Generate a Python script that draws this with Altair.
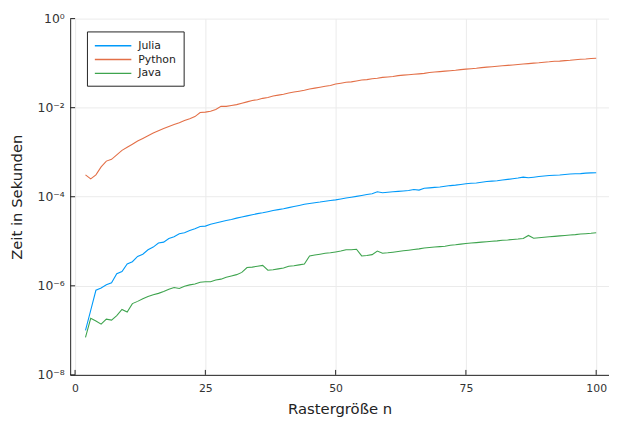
import altair as alt
import pandas as pd

n_values = list(range(2, 101))

julia = [
    1.00e-7, 2.82e-7, 7.94e-7, 8.91e-7, 1.05e-6, 1.17e-6, 1.86e-6, 2.09e-6, 3.09e-6, 3.47e-6,
    4.57e-6, 5.13e-6, 6.46e-6, 7.41e-6, 9.12e-6, 9.55e-6, 1.15e-5, 1.26e-5, 1.48e-5, 1.55e-5,
    1.74e-5, 1.91e-5, 2.14e-5, 2.19e-5, 2.40e-5, 2.57e-5, 2.75e-5, 2.92e-5, 3.09e-5, 3.31e-5,
    3.51e-5, 3.72e-5, 3.94e-5, 4.17e-5, 4.37e-5, 4.62e-5, 4.90e-5, 5.13e-5, 5.37e-5, 5.69e-5,
    6.03e-5, 6.38e-5, 6.76e-5, 7.08e-5, 7.33e-5, 7.59e-5, 7.94e-5, 8.22e-5, 8.51e-5, 8.91e-5,
    9.33e-5, 9.77e-5, 1.02e-4, 1.07e-4, 1.12e-4, 1.17e-4, 1.29e-4, 1.23e-4, 1.26e-4, 1.29e-4,
    1.32e-4, 1.35e-4, 1.38e-4, 1.45e-4, 1.41e-4, 1.55e-4, 1.58e-4, 1.62e-4, 1.66e-4, 1.72e-4,
    1.78e-4, 1.82e-4, 1.88e-4, 1.95e-4, 2.00e-4, 2.04e-4, 2.11e-4, 2.19e-4, 2.24e-4, 2.29e-4,
    2.37e-4, 2.45e-4, 2.54e-4, 2.63e-4, 2.75e-4, 2.66e-4, 2.75e-4, 2.85e-4, 2.92e-4, 2.99e-4,
    3.05e-4, 3.09e-4, 3.16e-4, 3.24e-4, 3.27e-4, 3.31e-4, 3.39e-4, 3.43e-4, 3.47e-4,
]

python = [
    3.09e-4, 2.51e-4, 3.09e-4, 4.68e-4, 6.31e-4, 6.92e-4, 8.71e-4, 1.10e-3, 1.29e-3, 1.51e-3,
    1.78e-3, 2.04e-3, 2.34e-3, 2.69e-3, 3.02e-3, 3.39e-3, 3.80e-3, 4.17e-3, 4.57e-3, 5.13e-3,
    5.62e-3, 6.31e-3, 7.76e-3, 7.94e-3, 8.32e-3, 9.12e-3, 1.07e-2, 1.07e-2, 1.12e-2, 1.17e-2,
    1.26e-2, 1.35e-2, 1.45e-2, 1.51e-2, 1.62e-2, 1.70e-2, 1.82e-2, 1.91e-2, 2.00e-2, 2.14e-2,
    2.24e-2, 2.34e-2, 2.45e-2, 2.63e-2, 2.75e-2, 2.88e-2, 3.02e-2, 3.16e-2, 3.39e-2, 3.55e-2,
    3.72e-2, 3.80e-2, 3.98e-2, 4.17e-2, 4.27e-2, 4.47e-2, 4.57e-2, 4.79e-2, 4.90e-2, 5.01e-2,
    5.25e-2, 5.37e-2, 5.50e-2, 5.62e-2, 5.75e-2, 5.89e-2, 6.17e-2, 6.31e-2, 6.46e-2, 6.61e-2,
    6.76e-2, 6.92e-2, 7.16e-2, 7.33e-2, 7.50e-2, 7.67e-2, 7.94e-2, 8.13e-2, 8.32e-2, 8.51e-2,
    8.71e-2, 8.91e-2, 9.12e-2, 9.33e-2, 9.55e-2, 9.77e-2, 1.00e-1, 1.02e-1, 1.05e-1, 1.07e-1,
    1.10e-1, 1.11e-1, 1.14e-1, 1.16e-1, 1.19e-1, 1.22e-1, 1.24e-1, 1.27e-1, 1.29e-1,
]

java = [
    6.92e-8, 1.86e-7, 1.62e-7, 1.38e-7, 1.78e-7, 1.70e-7, 2.14e-7, 2.95e-7, 2.57e-7, 3.98e-7,
    4.47e-7, 5.13e-7, 5.75e-7, 6.31e-7, 6.76e-7, 7.41e-7, 8.32e-7, 9.12e-7, 8.71e-7, 9.77e-7,
    1.05e-6, 1.10e-6, 1.20e-6, 1.23e-6, 1.23e-6, 1.35e-6, 1.41e-6, 1.55e-6, 1.66e-6, 1.78e-6,
    2.00e-6, 2.57e-6, 2.63e-6, 2.75e-6, 2.88e-6, 2.24e-6, 2.29e-6, 2.40e-6, 2.51e-6, 2.75e-6,
    2.82e-6, 2.95e-6, 3.09e-6, 4.68e-6, 4.90e-6, 5.13e-6, 5.37e-6, 5.50e-6, 5.75e-6, 6.03e-6,
    6.46e-6, 6.46e-6, 6.61e-6, 4.68e-6, 4.79e-6, 5.01e-6, 6.03e-6, 5.37e-6, 5.50e-6, 5.69e-6,
    5.89e-6, 6.10e-6, 6.31e-6, 6.53e-6, 6.76e-6, 7.08e-6, 7.24e-6, 7.41e-6, 7.59e-6, 7.76e-6,
    8.13e-6, 8.32e-6, 8.61e-6, 8.91e-6, 9.12e-6, 9.33e-6, 9.55e-6, 9.77e-6, 1.00e-5, 1.02e-5,
    1.05e-5, 1.07e-5, 1.10e-5, 1.12e-5, 1.15e-5, 1.35e-5, 1.17e-5, 1.20e-5, 1.23e-5, 1.26e-5,
    1.29e-5, 1.32e-5, 1.35e-5, 1.38e-5, 1.41e-5, 1.45e-5, 1.48e-5, 1.51e-5, 1.55e-5,
]

series_names = ["Julia", "Python", "Java"]
series_colors = ["#009AFA", "#E36F47", "#3EA44E"]
x_ticks = [0, 25, 50, 75, 100]
y_ticks = [1e-8, 1e-6, 1e-4, 1e-2, 1]

rows = []
for name, vals in zip(series_names, [julia, python, java]):
    for n, v in zip(n_values, vals):
        rows.append({"n": n, "t": v, "Sprache": name})
df = pd.DataFrame(rows)

FONT = "DejaVu Sans"
W, H = 546, 361

x_scale = alt.Scale(domain=[-0.94, 102.46], nice=False, zero=False)
y_scale = alt.Scale(type="log", domain=[1e-8, 1], nice=False)

y_label_expr = (
    "datum.value > 0.1 ? '10⁰' : datum.value > 0.001 ? '10⁻²' : "
    "datum.value > 0.00001 ? '10⁻⁴' : datum.value > 0.0000001 ? '10⁻⁶' : '10⁻⁸'"
)

lines = alt.Chart(df).mark_line(strokeWidth=1.1, clip=True).encode(
    x=alt.X("n:Q", scale=x_scale,
            axis=alt.Axis(values=x_ticks, title="Rastergröße n", grid=True, ticks=False,
                          labelPadding=8, titleX=273, titleY=34, titleBaseline="middle",
                          titleAlign="center")),
    y=alt.Y("t:Q", scale=y_scale,
            axis=alt.Axis(values=y_ticks, title="Zeit in Sekunden", grid=True, ticks=False,
                          labelExpr=y_label_expr, labelPadding=6, labelFontSize=12.5,
                          titleX=-54, titleY=180.5,
                          titleAngle=-90, titleBaseline="middle", titleAlign="center")),
    color=alt.Color("Sprache:N",
                    scale=alt.Scale(domain=series_names, range=series_colors),
                    sort=series_names,
                    legend=alt.Legend(title=None, orient="none", legendX=17, legendY=13,
                                      symbolType="M-1,0H4.69", symbolSize=169,
                                      symbolStrokeWidth=1.5,
                                      labelFont=FONT, labelFontSize=11, labelColor="#222",
                                      labelOffset=30, padding=7, rowPadding=1,
                                      strokeColor="#222", fillColor="white")),
)

xt_df = pd.DataFrame({"v": x_ticks})
yt_df = pd.DataFrame({"v": y_ticks})

x_tick_marks = alt.Chart(xt_df).mark_rule(color="#222", strokeWidth=1).encode(
    x=alt.X("v:Q", scale=x_scale), y=alt.value(H), y2=alt.value(H - 5))
y_tick_marks = alt.Chart(yt_df).mark_rule(color="#222", strokeWidth=1).encode(
    y=alt.Y("v:Q", scale=y_scale), x=alt.value(0), x2=alt.value(5))

chart = alt.layer(lines, x_tick_marks, y_tick_marks).properties(
    width=W, height=H,
    autosize=alt.AutoSizeParams(type="none"),
    padding={"left": 63, "top": 8, "right": 0, "bottom": 44},
).configure_view(strokeOpacity=0).configure_axis(
    labelFont=FONT, labelFontSize=11, labelColor="#333",
    titleFont=FONT, titleFontSize=15, titleFontWeight="normal", titleColor="#222",
    domainColor="#222", domainWidth=1,
    gridColor="#ebebeb", gridWidth=1,
)

chart.save("out.html", embed_options={"renderer": "svg", "actions": False})
